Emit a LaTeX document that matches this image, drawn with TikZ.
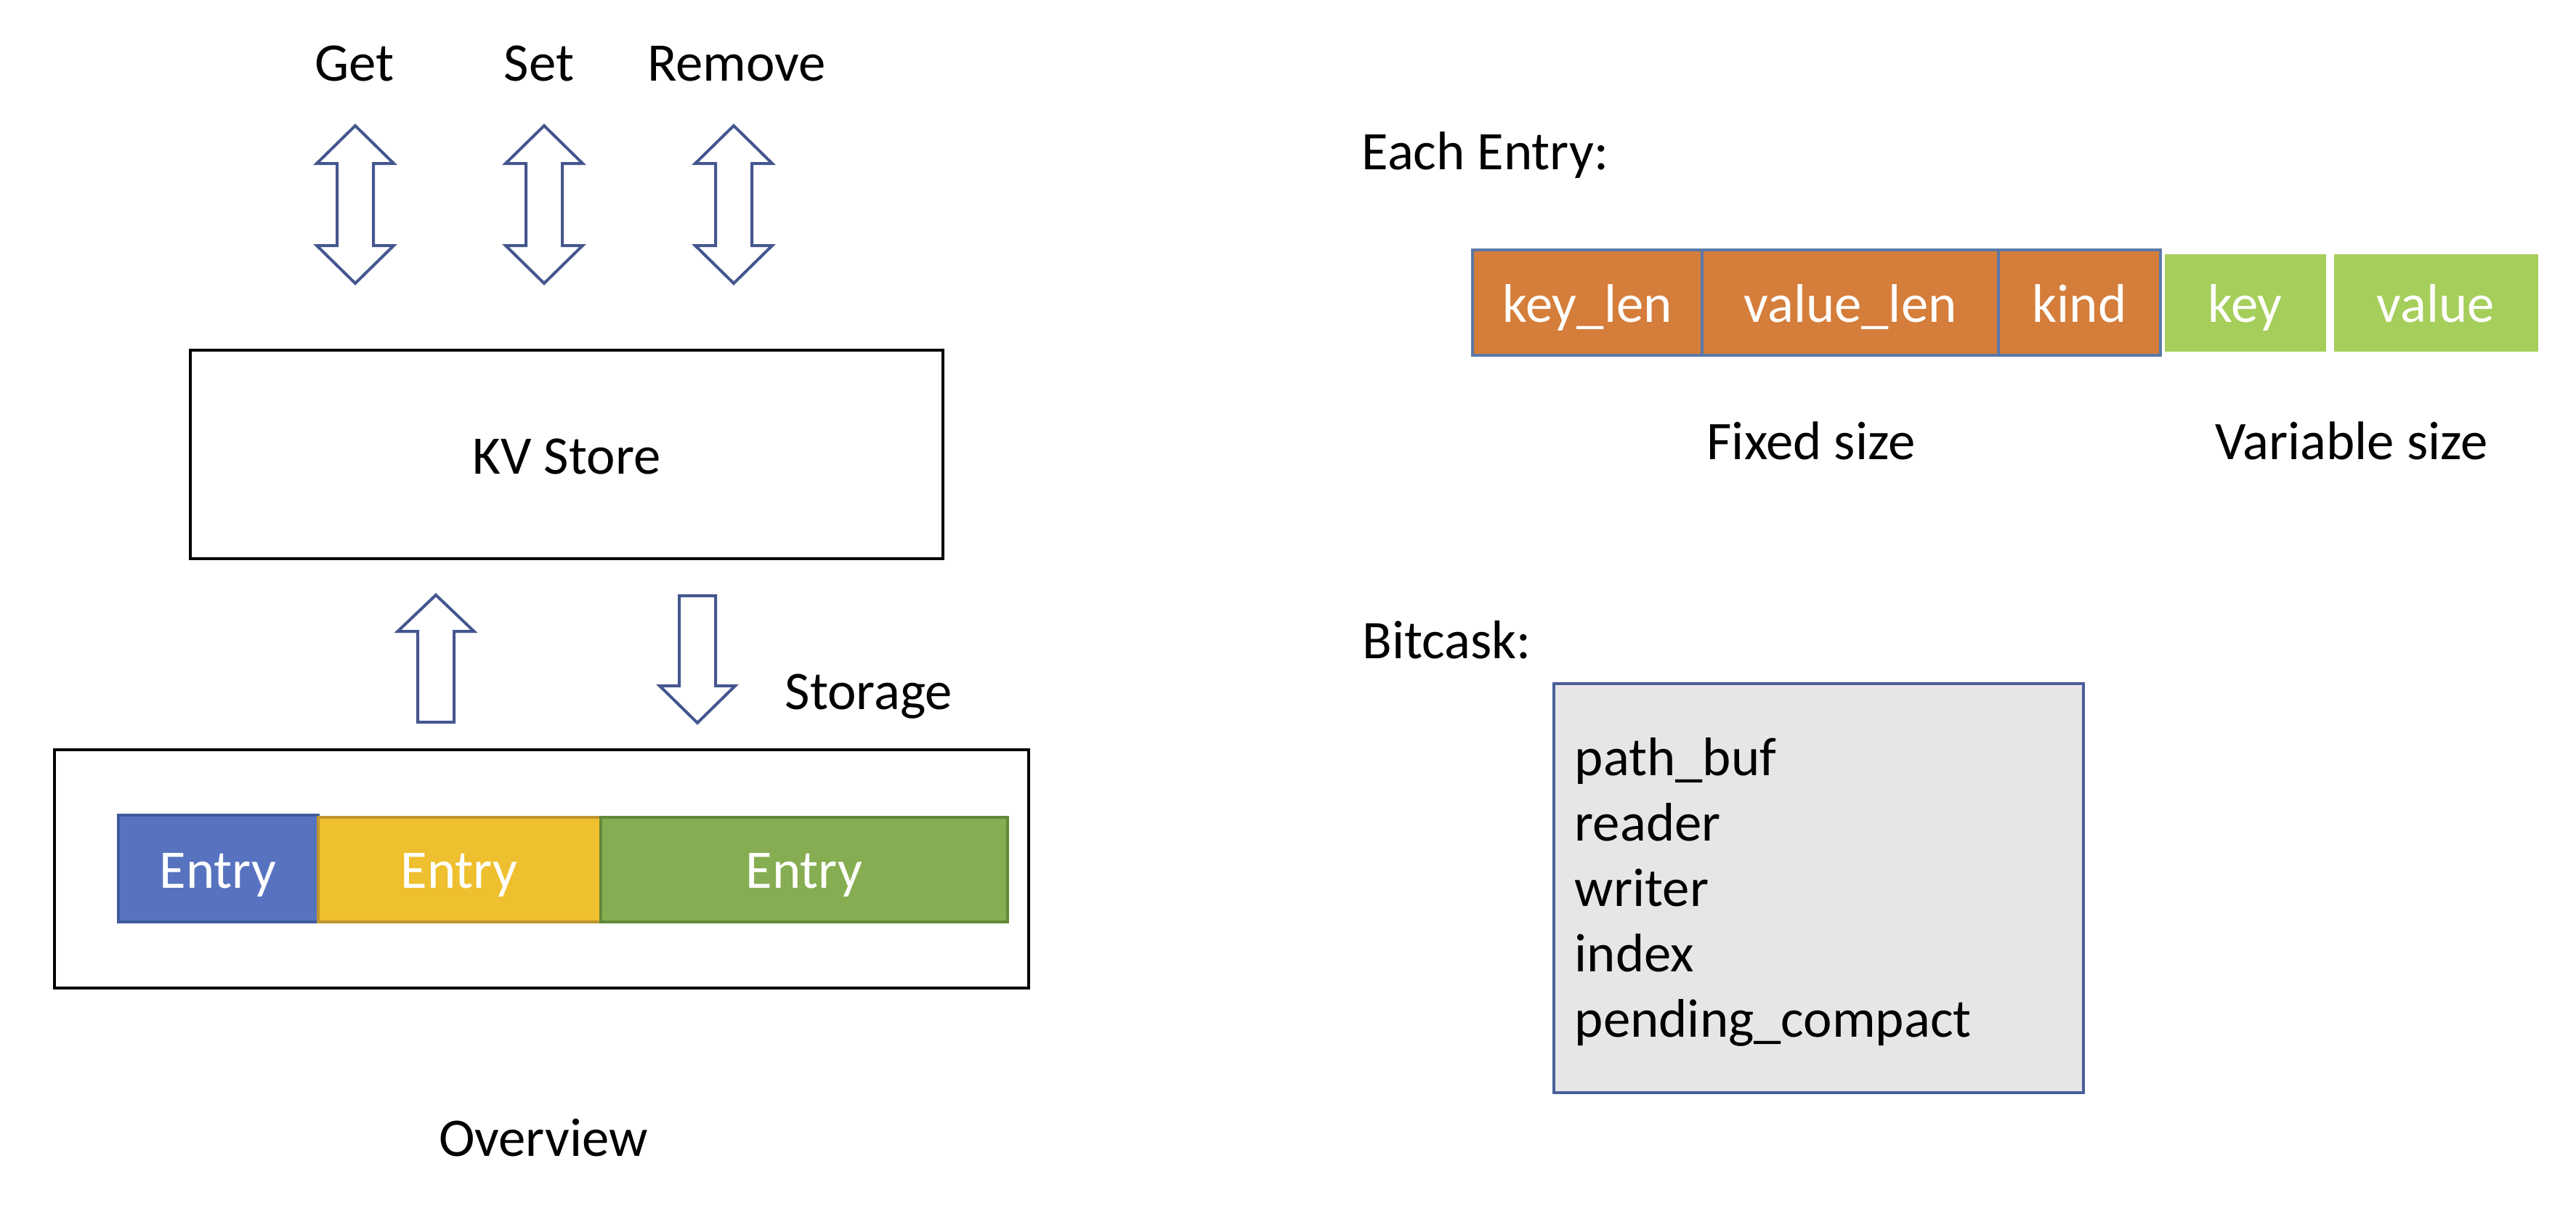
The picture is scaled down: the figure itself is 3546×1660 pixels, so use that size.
\documentclass[tikz,border=0pt]{standalone}
\usepackage{fontspec}
\setmainfont{Carlito}
\usetikzlibrary{fit}
\definecolor{arrowc}{HTML}{44568E}
\definecolor{entblue}{HTML}{5773C0}
\definecolor{entblueb}{HTML}{3F5A9C}
\definecolor{entyel}{HTML}{EEBF2E}
\definecolor{entyelb}{HTML}{BF9530}
\definecolor{entgrn}{HTML}{86AD51}
\definecolor{entgrnb}{HTML}{62883A}
\definecolor{fldorg}{HTML}{D57D3A}
\definecolor{fldorgb}{HTML}{5A78A8}
\definecolor{fldgrn}{HTML}{A5CE5B}
\definecolor{bcfill}{HTML}{E7E6E6}
\definecolor{bcborder}{HTML}{4A5E9A}
\begin{document}
\begin{tikzpicture}[x=0.25pt,y=-0.25pt,
  txt/.style={inner sep=0pt, anchor=base, font=\fontsize{18.7}{22.4}\selectfont},
  ltxt/.style={txt, anchor=base west},
  wtxt/.style={txt, text=white},
  blockarrow/.style={draw=arrowc, line width=1pt, fill=white, line join=miter},
  rbox/.style={inner sep=0pt, line width=#1},
  dblarr/.pic={\draw[blockarrow] (0,0) -- (53,52) -- (25,52) -- (25,165) -- (53,165) -- (0,217) -- (-53,165) -- (-25,165) -- (-25,52) -- (-53,52) -- cycle;}
]
\useasboundingbox (0,0) rectangle (3546,1660);

% top operations
\node[txt] (get) at (488,111) {Get};
\node[txt] (set) at (742,111) {Set};
\node[txt] (rem) at (1014,111) {Remove};
\pic at (489,173) {dblarr};
\pic at (749,173) {dblarr};
\pic at (1010,173) {dblarr};

% KV store
\node[rbox=0.8pt, draw=black, fit={(262,482) (1298,769)}] (kv) {};
\node[txt] (kvt) at (780,652) {KV Store};

% up / down arrows
\coordinate (upt) at (600,819);
\coordinate (dnt) at (960,995);
\draw[blockarrow] (upt) -- ++(52.5,50) -- ++(-27.5,0) -- ++(0,125) -- ++(-50,0) -- ++(0,-125) -- ++(-27.5,0) -- cycle;
\draw[blockarrow] (dnt) -- ++(52,-51) -- ++(-27,0) -- ++(0,-124) -- ++(-50,0) -- ++(0,124) -- ++(-27,0) -- cycle;

\node[txt] (stor) at (1196,976) {Storage};

% storage box
\node[rbox=1.1pt, draw=black, fit={(75,1032) (1416,1360)}] (sbox) {};
\node[rbox=0.9pt, draw=entblueb, fill=entblue, fit={(163,1122) (438,1269)}] (e1) {};
\node[rbox=0.9pt, draw=entyelb, fill=entyel, fit={(438,1125) (827,1269)}] (e2) {};
\node[rbox=0.9pt, draw=entgrnb, fill=entgrn, fit={(827,1125) (1387,1269)}] (e3) {};
\node[wtxt] (e1t) at (300,1222) {Entry};
\node[wtxt] (e2t) at (632,1222) {Entry};
\node[wtxt] (e3t) at (1107,1222) {Entry};

\node[txt] (ov) at (748,1591) {Overview};

% Each entry
\node[ltxt] (eachlbl) at (1874,233) {Each Entry:};
\node[rbox=0.9pt, draw=fldorgb, fill=fldorg, fit={(2027,344) (2343,489)}] (f1) {};
\node[rbox=0.9pt, draw=fldorgb, fill=fldorg, fit={(2343,344) (2751,489)}] (f2) {};
\node[rbox=0.9pt, draw=fldorgb, fill=fldorg, fit={(2751,344) (2974,489)}] (f3) {};
\node[rbox=0.75pt, draw=white, fill=fldgrn, fit={(2978,348) (3203,485)}] (f4) {};
\node[rbox=0.75pt, draw=white, fill=fldgrn, fit={(3211,348) (3495,485)}] (f5) {};
\node[wtxt] (f1t) at (f1.center |- 0,443) {key\_len};
\node[wtxt] (f2t) at (f2.center |- 0,443) {value\_len};
\node[wtxt] (f3t) at (f3.center |- 0,443) {kind};
\node[wtxt] (f4t) at (f4.center |- 0,443) {key};
\node[wtxt] (f5t) at (f5.center |- 0,443) {value};
\node[txt] (fixed) at (2493,632) {Fixed size};
\node[txt] (var) at (3237,632) {Variable size};

% Bitcask
\node[ltxt] (bclbl) at (1875,906) {Bitcask:};
\node[rbox=1pt, draw=bcborder, fill=bcfill, fit={(2139,941) (2868,1504)}] (bc) {};
\node[ltxt] (b1) at (2167,1067) {path\_buf};
\node[ltxt] (b2) at (2167,1157) {reader};
\node[ltxt] (b3) at (2167,1247) {writer};
\node[ltxt] (b4) at (2167,1337) {index};
\node[ltxt] (b5) at (2167,1427) {pending\_compact};
\end{tikzpicture}
\end{document}
